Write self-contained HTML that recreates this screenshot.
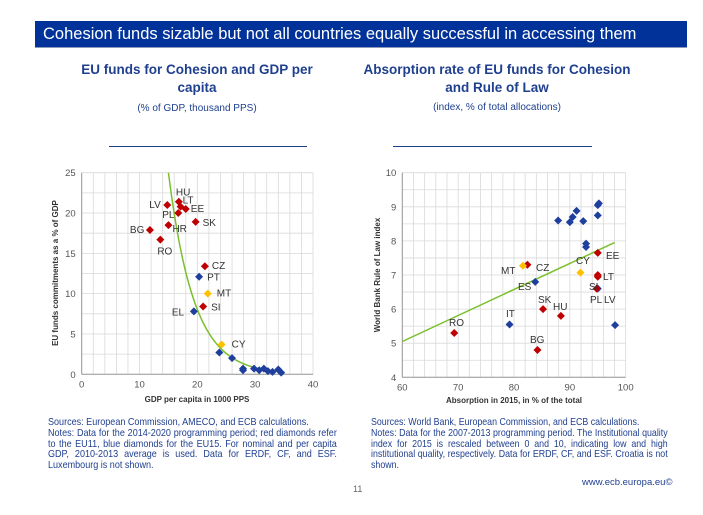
<!DOCTYPE html>
<html><head><meta charset="utf-8"><style>
body{margin:0;width:703px;height:515px;background:#fff;font-family:"Liberation Sans",sans-serif;position:relative;overflow:hidden}
.hdr{position:absolute;left:35px;top:21px;width:652px;height:27px;background:#003299;color:#fff;font-size:16.5px;line-height:27px;padding-left:8px;box-sizing:border-box;border-bottom:1px solid #8a9ab8}
.t{position:absolute;color:#1f3f8f;font-weight:bold;font-size:13.5px;text-align:center;line-height:18px}
.s{position:absolute;color:#1f3f8f;font-size:10px;text-align:center}
.rule{position:absolute;height:1px;background:#1f3f8f;top:146px}
.n{position:absolute;color:#1f3f8f;font-size:10.4px;line-height:10.8px;text-align:justify;top:418px;transform:scaleX(0.87);transform-origin:0 0}
svg{position:absolute;left:0;top:0}
</style></head><body>
<div class="hdr">Cohesion funds sizable but not all countries equally successful in accessing them</div>
<div class="t" style="left:62px;width:270px;top:61px">EU funds for Cohesion and GDP per capita</div>
<div class="s" style="left:62px;width:270px;top:103px">(% of GDP, thousand PPS)</div>
<div class="t" style="left:352px;width:290px;top:61px">Absorption rate of EU funds for Cohesion and Rule of Law</div>
<div class="s" style="left:352px;width:290px;top:102px">(index, % of total allocations)</div>
<div class="rule" style="left:109px;width:198px"></div>
<div class="rule" style="left:393px;width:199px"></div>
<div class="n" style="left:48px;width:332px"><span style="white-space:nowrap">Sources: European Commission, AMECO, and ECB calculations.</span><br>Notes: Data for the 2014-2020 programming period; red diamonds refer to the EU11, blue diamonds for the EU15. For nominal and per capita GDP, 2010-2013 average is used. Data for ERDF, CF, and ESF. Luxembourg is not shown.</div>
<div class="n" style="left:371px;width:349px;transform:scaleX(0.85)"><span style="white-space:nowrap">Sources: World Bank, European Commission, and ECB calculations.</span><br>Notes: Data for the 2007-2013 programming period. The Institutional quality index for 2015 is rescaled between 0 and 10, indicating low and high institutional quality, respectively. Data for ERDF, CF, and ESF. Croatia is not shown.</div>
<div style="position:absolute;left:582px;top:477px;font-size:9.5px;color:#1f3f8f">www.ecb.europa.eu©</div>
<div style="position:absolute;left:353px;top:484px;font-size:9px;color:#666">11</div>
<svg id="sv" width="703" height="515"></svg>
<script>
// Left chart data
const lX=[14.8,16.8,17.1,18,16.7,15,19.7,11.8,13.6,21.3,20.3,21.8,21,19.4,24.2,23.8,26,27.9,27.9,29.8,30.7,31.5,32.2,33,34,34.5];
const lY=[21,21.4,20.8,20.5,20,18.5,18.9,17.9,16.7,13.4,12.1,10,8.4,7.8,3.7,2.7,2,0.7,0.5,0.7,0.5,0.7,0.4,0.3,0.6,0.2];
const lC=['r','r','r','r','r','r','r','r','r','r','b','y','r','b','y','b','b','b','b','b','b','b','b','b','b','b'];
const lL=['LV','HU','LT','EE','PL','HR','SK','BG','RO','CZ','PT','MT','SI','EL','CY','','','','','','','','','','',''];
const lXT=[0,10,20,30,40];const lYT=[0,5,10,15,20,25];
// Right chart data
const rX=[87.9,90,90.5,91.2,92.4,95,95.2,95,92.9,92.9,95,83.8,79.2,98.1,95,82.4,95,95,94.8,85.2,88.4,69.3,84.2,81.6,91.9];
const rY=[8.6,8.55,8.7,8.88,8.58,9.05,9.1,8.75,7.92,7.82,6.6,6.8,5.55,5.53,7.65,7.3,7.0,6.95,6.6,6.0,5.8,5.3,4.8,7.27,7.07];
const rC=['b','b','b','b','b','b','b','b','b','b','b','b','b','b','r','r','r','r','r','r','r','r','r','y','y'];
const rXT=[60,70,80,90,100];const rYT=[4,5,6,7,8,9,10];
const fitA=[60,98];const fitB=[5.05,7.95];
const col={r:'#c00000',b:'#1f3f9f',y:'#ffc000'};
const sv=document.getElementById('sv');const NS='http://www.w3.org/2000/svg';
function mk(t,a,txt){const e=document.createElementNS(NS,t);for(const k in a)e.setAttribute(k,a[k]);if(txt!=null)e.textContent=txt;sv.appendChild(e);return e;}
function chart(x0,x1,px0,px1,y0,y1,py0,py1,gx,gy,xt,yt,name){
 const sx=v=>px0+(v-x0)/(x1-x0)*(px1-px0),sy=v=>py0+(v-y0)/(y1-y0)*(py1-py0);
 for(let v=x0;v<=x1+1e-9;v+=gx){const g=mk('line',{x1:sx(v),x2:sx(v),y1:py0,y2:py1,stroke:'#d9d9d9','stroke-width':0.8});}
 for(let v=y0;v<=y1+1e-9;v+=gy){const g=mk('line',{x1:px0,x2:px1,y1:sy(v),y2:sy(v),stroke:'#d9d9d9','stroke-width':0.8});}
 mk('line',{x1:px0,x2:px0,y1:py0,y2:py1,stroke:'#999'});mk('line',{x1:px0,x2:px1,y1:py0,y2:py0,stroke:'#999'});
 xt.forEach(v=>{const t=mk('text',{x:sx(v),y:py0+13,'text-anchor':'middle','font-size':9.5,fill:'#555'},v);});
 yt.forEach(v=>{const t=mk('text',{x:px0-6,y:sy(v)+3.5,'text-anchor':'end','font-size':9.5,fill:'#555'},v);});
 return [sx,sy];
}
function dia(x,y,c,name){const d=mk('path',{d:`M${x} ${y-4}L${x+4} ${y}L${x} ${y+4}L${x-4} ${y}Z`,fill:col[c]});}
// Left
const [lsx,lsy]=chart(0,40,81.7,313,0,25,374.3,172.7,2,2.5,lXT,lYT,'left');
let pts=[];for(let x=15;x<=34.6;x+=0.25){pts.push(lsx(x)+','+lsy(25*Math.exp(-0.227*(x-15))));}
const c1=mk('polyline',{points:pts.join(' '),fill:'none',stroke:'#7ac02c','stroke-width':1.5});
const lOff={LV:[-18,3],HU:[-3,-6],LT:[2,-3],EE:[5,3],PL:[-16,5],HR:[4,7],SK:[7,4],BG:[-20,3],RO:[-3,15],CZ:[7,3],PT:[8,4],MT:[9,3],SI:[8,4],EL:[-22,4],CY:[10,3]};
lX.forEach((v,i)=>{dia(lsx(v),lsy(lY[i]),lC[i],'left-point');if(lL[i]){const o=lOff[lL[i]];const t=mk('text',{x:lsx(v)+o[0],y:lsy(lY[i])+o[1],'font-size':10,fill:'#333'},lL[i]);}});
let t=mk('text',{x:197,y:402,'text-anchor':'middle','font-size':8,'font-weight':'bold',fill:'#333'},'GDP per capita in 1000 PPS');
t=mk('text',{transform:'translate(58,273) rotate(-90)','text-anchor':'middle','font-size':8,'font-weight':'bold',fill:'#333'},'EU funds commitments as a % of GDP');
// Right
const [rsx,rsy]=chart(60,100,402.3,625.7,4,10,377.3,172.7,2,0.5,rXT,rYT,'right');
const l2=mk('line',{x1:rsx(fitA[0]),y1:rsy(fitB[0]),x2:rsx(fitA[1]),y2:rsy(fitB[1]),stroke:'#7ac02c','stroke-width':1.5});
rX.forEach((v,i)=>dia(rsx(v),rsy(rY[i]),rC[i],'right-point'));
const rLab=[['EE',606,255],['MT',501,270],['CZ',536,267],['CY',576,260],['LT',603,276],['SI',589,286],['ES',518,286],['PL',590,299],['LV',604,299],['SK',538,299],['HU',553,306],['IT',506,313],['RO',449,322],['BG',530,339]];
rLab.forEach(l=>{const e=mk('text',{x:l[1],y:l[2]+4,'font-size':10,fill:'#333'},l[0]);});
t=mk('text',{x:514,y:403,'text-anchor':'middle','font-size':8,'font-weight':'bold',fill:'#333'},'Absorption in 2015, in % of the total');
t=mk('text',{transform:'translate(380,275) rotate(-90)','text-anchor':'middle','font-size':8,'font-weight':'bold',fill:'#333'},'World Bank Rule of Law index');
</script>
</body></html>
